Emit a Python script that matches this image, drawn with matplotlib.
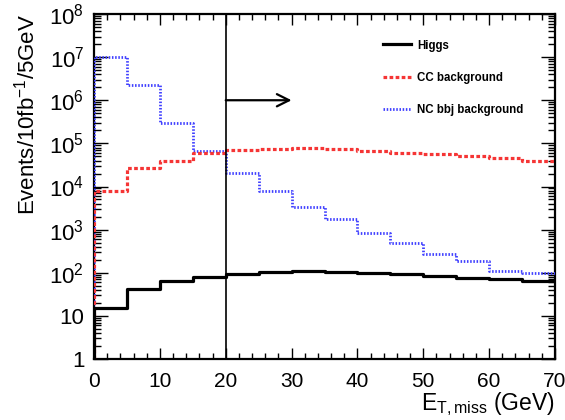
import numpy as np
import matplotlib
matplotlib.use("Agg")
import matplotlib.pyplot as plt
from matplotlib.ticker import FixedLocator, NullFormatter, MultipleLocator

plt.rcParams['font.family'] = ['Liberation Sans', 'DejaVu Sans']
plt.rcParams['mathtext.fontset'] = 'custom'
plt.rcParams['mathtext.rm'] = 'Liberation Sans'
plt.rcParams['mathtext.it'] = 'Liberation Sans'

# 5 GeV bins of missing transverse energy
bin_edges = [0, 5, 10, 15, 20, 25, 30, 35, 40, 45, 50, 55, 60, 65, 70]

higgs = [15, 42, 65, 80, 94, 105, 110, 105, 100, 92, 85, 77, 71, 65]
cc_bkg = [7.9e3, 2.7e4, 4.0e4, 6.0e4, 7.1e4, 7.6e4, 7.9e4, 7.3e4,
          6.5e4, 5.9e4, 5.6e4, 5.2e4, 4.5e4, 3.8e4]
nc_bbj_bkg = [1.0e7, 2.3e6, 3.0e5, 6.7e4, 2.1e4, 7.9e3, 3.4e3, 1.8e3,
              850, 490, 270, 190, 112, 99]

series_labels = ["Higgs", "CC background", "NC bbj background"]
cut_value = 20
arrow_end = 30
arrow_level = 1e6

y_min, y_max = 1, 1e8
y_tick_labels = ["1", "10", "$10^{2}$", "$10^{3}$", "$10^{4}$", "$10^{5}$",
                 "$10^{6}$", "$10^{7}$", "$10^{8}$"]
x_ticks = [0, 10, 20, 30, 40, 50, 60, 70]


def step_path(edges, values, floor):
    """Histogram outline starting from the axis floor at the first edge."""
    xs = [edges[0]]
    ys = [floor]
    for lo, hi, v in zip(edges[:-1], edges[1:], values):
        xs += [lo, hi]
        ys += [v, v]
    return np.array(xs), np.array(ys)


fig = plt.figure(figsize=(5.65, 4.2), dpi=100)
ax = fig.add_axes([0.1664, 0.1452, 0.8159, 0.8215])

x, y = step_path(bin_edges, nc_bbj_bkg, y_min)
ax.plot(x, y, color="#4040ff", lw=2.0, ls=(0, (0.55, 0.6)),
        label=series_labels[2], zorder=3)
x, y = step_path(bin_edges, cc_bkg, y_min)
ax.plot(x, y, color="#f53535", lw=2.3, ls=(0, (1.15, 0.75)),
        label=series_labels[1], zorder=3)
x, y = step_path(bin_edges, higgs, y_min)
ax.plot(x, y, color="black", lw=2.3, label=series_labels[0], zorder=4)

# selection cut and direction arrow
ax.axvline(cut_value, color="black", lw=1.2, zorder=5)
ax.annotate("", xy=(arrow_end, arrow_level), xytext=(cut_value, arrow_level),
            arrowprops=dict(arrowstyle="->", lw=1.6, color="black",
                            mutation_scale=22, shrinkA=0, shrinkB=0),
            zorder=5)

ax.set_yscale("log")
ax.set_xlim(bin_edges[0], bin_edges[-1])
ax.set_ylim(y_min, y_max)

ax.yaxis.set_major_locator(FixedLocator([10.0 ** k for k in range(9)]))
ax.set_yticklabels(y_tick_labels)
ax.yaxis.set_minor_locator(FixedLocator(
    [m * 10.0 ** k for k in range(8) for m in range(2, 10)]))
ax.yaxis.set_minor_formatter(NullFormatter())
ax.set_xticks(x_ticks)
ax.set_xticklabels([str(t) for t in x_ticks])
ax.xaxis.set_minor_locator(MultipleLocator(2))

ax.tick_params(which="both", direction="in", top=True, right=True,
               width=1.0, color="black")
ax.tick_params(axis="y", which="major", length=10, labelsize=16, pad=7)
ax.tick_params(axis="y", which="minor", length=5)
ax.tick_params(axis="x", which="major", length=8, labelsize=15, pad=9)
ax.tick_params(axis="x", which="minor", length=4)
for sp in ax.spines.values():
    sp.set_linewidth(1.6)

ax.set_ylabel("Events/10fb$^{-1}$/5GeV", fontsize=16, loc="top", labelpad=7)
ax.set_xlabel("E$_{T,miss}$ (GeV)", fontsize=16.5, loc="right", labelpad=0)

handles, labels = ax.get_legend_handles_labels()
order = [2, 1, 0]
leg = ax.legend([handles[i] for i in order], [labels[i] for i in order],
                loc="upper left", bbox_to_anchor=(0.627, 0.926), frameon=False,
                prop={"weight": "bold", "size": 8.3}, handlelength=2.45,
                labelspacing=1.75, handletextpad=0.5, borderpad=0,
                borderaxespad=0)

fig.savefig("out.png", dpi=100)
